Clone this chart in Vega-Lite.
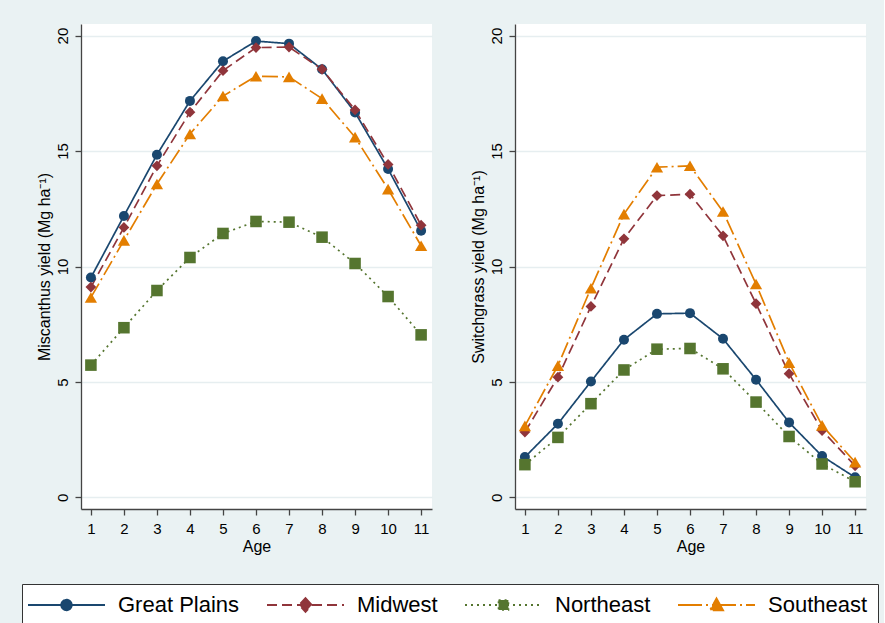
{
  "$schema": "https://vega.github.io/schema/vega-lite/v6.json",
  "background": "#eaf2f3",
  "padding": {"left": 21, "top": 24, "right": 5, "bottom": 0},
  "datasets": {
    "yields": [
      {"crop": "Miscanthus", "region": "Great Plains", "age": 1, "yield": 9.52},
      {"crop": "Miscanthus", "region": "Great Plains", "age": 2, "yield": 12.19},
      {"crop": "Miscanthus", "region": "Great Plains", "age": 3, "yield": 14.84},
      {"crop": "Miscanthus", "region": "Great Plains", "age": 4, "yield": 17.17},
      {"crop": "Miscanthus", "region": "Great Plains", "age": 5, "yield": 18.89},
      {"crop": "Miscanthus", "region": "Great Plains", "age": 6, "yield": 19.76},
      {"crop": "Miscanthus", "region": "Great Plains", "age": 7, "yield": 19.65},
      {"crop": "Miscanthus", "region": "Great Plains", "age": 8, "yield": 18.54},
      {"crop": "Miscanthus", "region": "Great Plains", "age": 9, "yield": 16.67},
      {"crop": "Miscanthus", "region": "Great Plains", "age": 10, "yield": 14.22},
      {"crop": "Miscanthus", "region": "Great Plains", "age": 11, "yield": 11.55},
      {"crop": "Miscanthus", "region": "Midwest", "age": 1, "yield": 9.11},
      {"crop": "Miscanthus", "region": "Midwest", "age": 2, "yield": 11.69},
      {"crop": "Miscanthus", "region": "Midwest", "age": 3, "yield": 14.36},
      {"crop": "Miscanthus", "region": "Midwest", "age": 4, "yield": 16.68},
      {"crop": "Miscanthus", "region": "Midwest", "age": 5, "yield": 18.48},
      {"crop": "Miscanthus", "region": "Midwest", "age": 6, "yield": 19.48},
      {"crop": "Miscanthus", "region": "Midwest", "age": 7, "yield": 19.5},
      {"crop": "Miscanthus", "region": "Midwest", "age": 8, "yield": 18.54},
      {"crop": "Miscanthus", "region": "Midwest", "age": 9, "yield": 16.78},
      {"crop": "Miscanthus", "region": "Midwest", "age": 10, "yield": 14.42},
      {"crop": "Miscanthus", "region": "Midwest", "age": 11, "yield": 11.79},
      {"crop": "Miscanthus", "region": "Northeast", "age": 1, "yield": 5.73},
      {"crop": "Miscanthus", "region": "Northeast", "age": 2, "yield": 7.35},
      {"crop": "Miscanthus", "region": "Northeast", "age": 3, "yield": 8.96},
      {"crop": "Miscanthus", "region": "Northeast", "age": 4, "yield": 10.39},
      {"crop": "Miscanthus", "region": "Northeast", "age": 5, "yield": 11.43},
      {"crop": "Miscanthus", "region": "Northeast", "age": 6, "yield": 11.95},
      {"crop": "Miscanthus", "region": "Northeast", "age": 7, "yield": 11.92},
      {"crop": "Miscanthus", "region": "Northeast", "age": 8, "yield": 11.27},
      {"crop": "Miscanthus", "region": "Northeast", "age": 9, "yield": 10.13},
      {"crop": "Miscanthus", "region": "Northeast", "age": 10, "yield": 8.7},
      {"crop": "Miscanthus", "region": "Northeast", "age": 11, "yield": 7.04},
      {"crop": "Miscanthus", "region": "Southeast", "age": 1, "yield": 8.66},
      {"crop": "Miscanthus", "region": "Southeast", "age": 2, "yield": 11.13},
      {"crop": "Miscanthus", "region": "Southeast", "age": 3, "yield": 13.57},
      {"crop": "Miscanthus", "region": "Southeast", "age": 4, "yield": 15.74},
      {"crop": "Miscanthus", "region": "Southeast", "age": 5, "yield": 17.38},
      {"crop": "Miscanthus", "region": "Southeast", "age": 6, "yield": 18.24},
      {"crop": "Miscanthus", "region": "Southeast", "age": 7, "yield": 18.21},
      {"crop": "Miscanthus", "region": "Southeast", "age": 8, "yield": 17.27},
      {"crop": "Miscanthus", "region": "Southeast", "age": 9, "yield": 15.6},
      {"crop": "Miscanthus", "region": "Southeast", "age": 10, "yield": 13.35},
      {"crop": "Miscanthus", "region": "Southeast", "age": 11, "yield": 10.9},
      {"crop": "Switchgrass", "region": "Great Plains", "age": 1, "yield": 1.75},
      {"crop": "Switchgrass", "region": "Great Plains", "age": 2, "yield": 3.19},
      {"crop": "Switchgrass", "region": "Great Plains", "age": 3, "yield": 5.02},
      {"crop": "Switchgrass", "region": "Great Plains", "age": 4, "yield": 6.83},
      {"crop": "Switchgrass", "region": "Great Plains", "age": 5, "yield": 7.95},
      {"crop": "Switchgrass", "region": "Great Plains", "age": 6, "yield": 7.98},
      {"crop": "Switchgrass", "region": "Great Plains", "age": 7, "yield": 6.87},
      {"crop": "Switchgrass", "region": "Great Plains", "age": 8, "yield": 5.1},
      {"crop": "Switchgrass", "region": "Great Plains", "age": 9, "yield": 3.25},
      {"crop": "Switchgrass", "region": "Great Plains", "age": 10, "yield": 1.79},
      {"crop": "Switchgrass", "region": "Great Plains", "age": 11, "yield": 0.87},
      {"crop": "Switchgrass", "region": "Midwest", "age": 1, "yield": 2.83},
      {"crop": "Switchgrass", "region": "Midwest", "age": 2, "yield": 5.21},
      {"crop": "Switchgrass", "region": "Midwest", "age": 3, "yield": 8.27},
      {"crop": "Switchgrass", "region": "Midwest", "age": 4, "yield": 11.2},
      {"crop": "Switchgrass", "region": "Midwest", "age": 5, "yield": 13.07},
      {"crop": "Switchgrass", "region": "Midwest", "age": 6, "yield": 13.13},
      {"crop": "Switchgrass", "region": "Midwest", "age": 7, "yield": 11.33},
      {"crop": "Switchgrass", "region": "Midwest", "age": 8, "yield": 8.39},
      {"crop": "Switchgrass", "region": "Midwest", "age": 9, "yield": 5.36},
      {"crop": "Switchgrass", "region": "Midwest", "age": 10, "yield": 2.9},
      {"crop": "Switchgrass", "region": "Midwest", "age": 11, "yield": 1.37},
      {"crop": "Switchgrass", "region": "Northeast", "age": 1, "yield": 1.42},
      {"crop": "Switchgrass", "region": "Northeast", "age": 2, "yield": 2.6},
      {"crop": "Switchgrass", "region": "Northeast", "age": 3, "yield": 4.06},
      {"crop": "Switchgrass", "region": "Northeast", "age": 4, "yield": 5.52},
      {"crop": "Switchgrass", "region": "Northeast", "age": 5, "yield": 6.42},
      {"crop": "Switchgrass", "region": "Northeast", "age": 6, "yield": 6.45},
      {"crop": "Switchgrass", "region": "Northeast", "age": 7, "yield": 5.57},
      {"crop": "Switchgrass", "region": "Northeast", "age": 8, "yield": 4.13},
      {"crop": "Switchgrass", "region": "Northeast", "age": 9, "yield": 2.64},
      {"crop": "Switchgrass", "region": "Northeast", "age": 10, "yield": 1.45},
      {"crop": "Switchgrass", "region": "Northeast", "age": 11, "yield": 0.68},
      {"crop": "Switchgrass", "region": "Southeast", "age": 1, "yield": 3.1},
      {"crop": "Switchgrass", "region": "Southeast", "age": 2, "yield": 5.71},
      {"crop": "Switchgrass", "region": "Southeast", "age": 3, "yield": 9.06},
      {"crop": "Switchgrass", "region": "Southeast", "age": 4, "yield": 12.27},
      {"crop": "Switchgrass", "region": "Southeast", "age": 5, "yield": 14.3},
      {"crop": "Switchgrass", "region": "Southeast", "age": 6, "yield": 14.36},
      {"crop": "Switchgrass", "region": "Southeast", "age": 7, "yield": 12.38},
      {"crop": "Switchgrass", "region": "Southeast", "age": 8, "yield": 9.24},
      {"crop": "Switchgrass", "region": "Southeast", "age": 9, "yield": 5.84},
      {"crop": "Switchgrass", "region": "Southeast", "age": 10, "yield": 3.12},
      {"crop": "Switchgrass", "region": "Southeast", "age": 11, "yield": 1.53}
    ]
  },
  "data": {"name": "yields"},
  "hconcat": [
    {
      "width": 351,
      "height": 485,
      "transform": [{"filter": "datum.crop === 'Miscanthus'"}],
      "encoding": {
        "x": {"field": "age", "type": "quantitative", "title": "Age",
          "scale": {"domain": [0.7, 11.33], "nice": false, "zero": false},
          "axis": {"values": [1,2,3,4,5,6,7,8,9,10,11], "format": "d"}},
        "y": {"field": "yield", "type": "quantitative", "title": "Miscanthus yield (Mg ha⁻¹)",
          "scale": {"domain": [-0.5, 20.5], "nice": false, "zero": false},
          "axis": {"values": [0, 5, 10, 15, 20]}},
        "color": {"field": "region", "type": "nominal",
          "scale": {"domain": ["Great Plains", "Midwest", "Northeast", "Southeast"], "range": ["#1a476f", "#90353b", "#55752f", "#e37e00"]},
          "legend": {
            "encode": {"symbols": {"update": {
              "shape": {"signal": "datum.value === 'Great Plains' ? 'M-5.5,0H5.5M0.75,0A0.75,0.75,0,1,1,-0.75,0A0.75,0.75,0,1,1,0.75,0Z' : datum.value === 'Midwest' ? 'M-5.5,0H5.5M0,-1.0L0.9,0L0,1.0L-0.9,0Z' : datum.value === 'Northeast' ? 'M-5.5,0H5.5M-0.7,-0.7H0.7V0.7H-0.7Z' : 'M-5.5,0H5.5M0,-0.95L0.95,0.75L-0.95,0.75Z'"},
              "strokeDash": {"signal": "datum.value === 'Great Plains' ? [1,0] : datum.value === 'Midwest' ? [10,5] : datum.value === 'Northeast' ? [2,4] : [24,4,2,4]"},
              "fill": {"scale": "color", "field": "value"},
              "stroke": {"scale": "color", "field": "value"},
              "strokeWidth": {"value": 1.8},
              "opacity": {"value": 1}
            }}}
          }}
      },
      "layer": [
        {"mark": {"type": "line", "strokeWidth": 1.7},
          "encoding": {"strokeDash": {"field": "region", "type": "nominal", "legend": null,
            "scale": {"range": [[1, 0], [10, 5], [2, 4], [16, 4, 2, 4]]}}}},
        {"mark": {"type": "point", "filled": true, "opacity": 1},
          "encoding": {
            "shape": {"field": "region", "type": "nominal", "legend": null,
              "scale": {"range": ["circle", "diamond", "square", "triangle-up"]}},
            "size": {"field": "region", "type": "nominal", "legend": null,
              "scale": {"range": [100, 150, 85, 140]}}
          }}
      ]
    },
    {
      "width": 351,
      "height": 485,
      "transform": [{"filter": "datum.crop === 'Switchgrass'"}],
      "encoding": {
        "x": {"field": "age", "type": "quantitative", "title": "Age",
          "scale": {"domain": [0.7, 11.33], "nice": false, "zero": false},
          "axis": {"values": [1,2,3,4,5,6,7,8,9,10,11], "format": "d"}},
        "y": {"field": "yield", "type": "quantitative", "title": "Switchgrass yield (Mg ha⁻¹)",
          "scale": {"domain": [-0.5, 20.5], "nice": false, "zero": false},
          "axis": {"values": [0, 5, 10, 15, 20]}},
        "color": {"field": "region", "type": "nominal",
          "scale": {"domain": ["Great Plains", "Midwest", "Northeast", "Southeast"], "range": ["#1a476f", "#90353b", "#55752f", "#e37e00"]},
          "legend": {
            "encode": {"symbols": {"update": {
              "shape": {"signal": "datum.value === 'Great Plains' ? 'M-5.5,0H5.5M0.75,0A0.75,0.75,0,1,1,-0.75,0A0.75,0.75,0,1,1,0.75,0Z' : datum.value === 'Midwest' ? 'M-5.5,0H5.5M0,-1.0L0.9,0L0,1.0L-0.9,0Z' : datum.value === 'Northeast' ? 'M-5.5,0H5.5M-0.7,-0.7H0.7V0.7H-0.7Z' : 'M-5.5,0H5.5M0,-0.95L0.95,0.75L-0.95,0.75Z'"},
              "strokeDash": {"signal": "datum.value === 'Great Plains' ? [1,0] : datum.value === 'Midwest' ? [10,5] : datum.value === 'Northeast' ? [2,4] : [24,4,2,4]"},
              "fill": {"scale": "color", "field": "value"},
              "stroke": {"scale": "color", "field": "value"},
              "strokeWidth": {"value": 1.8},
              "opacity": {"value": 1}
            }}}
          }}
      },
      "layer": [
        {"mark": {"type": "line", "strokeWidth": 1.7},
          "encoding": {"strokeDash": {"field": "region", "type": "nominal", "legend": null,
            "scale": {"range": [[1, 0], [10, 5], [2, 4], [16, 4, 2, 4]]}}}},
        {"mark": {"type": "point", "filled": true, "opacity": 1},
          "encoding": {
            "shape": {"field": "region", "type": "nominal", "legend": null,
              "scale": {"range": ["circle", "diamond", "square", "triangle-up"]}},
            "size": {"field": "region", "type": "nominal", "legend": null,
              "scale": {"range": [100, 150, 85, 140]}}
          }}
      ]
    }
  ],
  "spacing": 37,
  "config": {
    "font": "Liberation Sans",
    "view": {"fill": "#ffffff", "stroke": null},
    "axis": {
      "domainColor": "#444444", "domainWidth": 1.3, "tickColor": "#444444", "tickWidth": 1.3, "tickSize": 6,
      "labelFontSize": 15, "labelColor": "#000000", "titleFontSize": 16, "titleColor": "#000000", "titleFontWeight": "normal",
      "gridColor": "#e6eef0", "gridWidth": 1.3
    },
    "axisX": {"grid": false, "labelPadding": 6, "titlePadding": 2, "labelFlush": false},
    "axisY": {"grid": true, "labelAngle": 270, "labelAlign": "center", "labelBaseline": "bottom", "labelPadding": 5, "titlePadding": 3},
    "legend": {
      "orient": "none", "legendX": -59, "legendY": 560,
      "direction": "horizontal", "columns": 4, "title": null,
      "symbolSize": 196, "symbolOffset": 23.5, "symbolStrokeWidth": 1.8, "symbolOpacity": 1,
      "labelFontSize": 22, "labelFont": "Liberation Sans", "labelColor": "#000000", "labelOffset": 40.5, "labelLimit": 300,
      "columnPadding": 23, "padding": 10,
      "strokeColor": "#333333", "fillColor": "#ffffff"
    }
  },
  "resolve": {"legend": {"color": "shared"}}
}
